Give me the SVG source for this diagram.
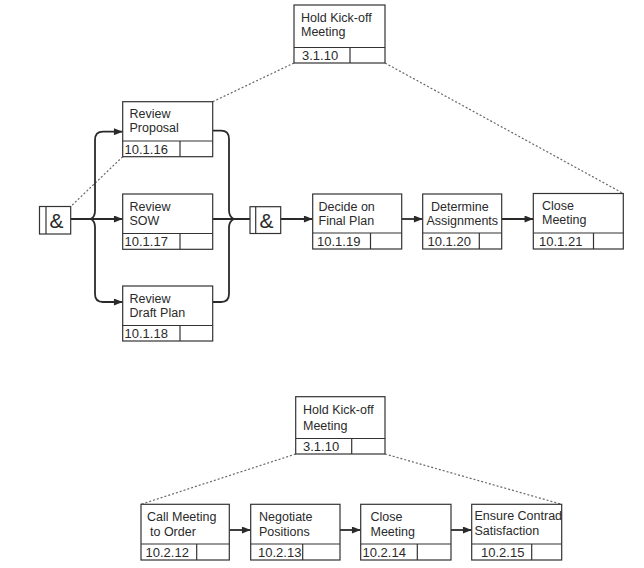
<svg xmlns="http://www.w3.org/2000/svg" width="644" height="568" viewBox="0 0 644 568">
<defs>
<style>
.box rect{fill:#fff;stroke:#333;stroke-width:1.2}
.box line{stroke:#333;stroke-width:1.2}
.lbl{font-family:"Liberation Sans",Arial,sans-serif;font-size:12.5px;fill:#2a2a2a}
.id{font-family:"Liberation Sans",Arial,sans-serif;font-size:13px;fill:#2a2a2a}
.amp{font-family:"Liberation Sans",Arial,sans-serif;font-size:21px;fill:#2a2a2a}
.flow{fill:none;stroke:#2a2a2a;stroke-width:1.8}
.dot{fill:none;stroke:#666;stroke-width:1.2;stroke-dasharray:2 2}
</style>
<marker id="ah" viewBox="0 0 10 8" refX="10" refY="4" markerWidth="10" markerHeight="7" markerUnits="userSpaceOnUse" orient="auto">
<path d="M0,0 L10,4 L0,8 z" fill="#2a2a2a"/>
</marker>
</defs>
<rect width="644" height="568" fill="#fff"/>

<g id="connectors">
<path class="dot" d="M294,63 L212.7,101.7"/>
<path class="dot" d="M122.7,156.7 L70.7,206.5"/>
<path class="dot" d="M385,63 L623.3,193.5"/>
<path class="dot" d="M295.7,454 L141,504.3"/>
<path class="dot" d="M385,454 L561.7,504.3"/>
<path class="flow" d="M70.7,219 H122.7" marker-end="url(#ah)"/>
<path class="flow" d="M90.7,219 Q95,217 95,211 V140 Q95,131.7 103,131.7 H122.7" marker-end="url(#ah)"/>
<path class="flow" d="M90.7,219 Q95,221 95,227 V294 Q95,302 103,302 H122.7" marker-end="url(#ah)"/>
<path class="flow" d="M212.7,130.7 H221 Q229,130.7 229,139 V210 Q229,217 234,219"/>
<path class="flow" d="M212.7,302 H221 Q229,302 229,294 V228 Q229,221 234,219"/>
<path class="flow" d="M212.7,219 H250"/>
<path class="flow" d="M280.7,219 H312.7" marker-end="url(#ah)"/>
<path class="flow" d="M401.7,219 H422.7" marker-end="url(#ah)"/>
<path class="flow" d="M501.7,219 H533.3" marker-end="url(#ah)"/>
<path class="flow" d="M229.3,530 H250.7" marker-end="url(#ah)"/>
<path class="flow" d="M340,530 H360.7" marker-end="url(#ah)"/>
<path class="flow" d="M451,530 H471.7" marker-end="url(#ah)"/>
</g>

<g id="kickoff-top" class="box">
<rect x="294" y="5" width="91" height="58"/>
<line x1="294" y1="47.5" x2="385" y2="47.5"/>
<line x1="350" y1="47.5" x2="350" y2="63"/>
<text class="lbl" x="301" y="22">Hold Kick-off</text>
<text class="lbl" x="301" y="36">Meeting</text>
<text class="id" x="302" y="60">3.1.10</text>
</g>

<g id="and-left" class="box">
<rect x="39.5" y="206.5" width="31.2" height="27.5"/>
<line x1="46" y1="206.5" x2="46" y2="234"/>
<text class="amp" x="49.5" y="228">&amp;</text>
</g>

<g id="review-proposal" class="box">
<rect x="122.7" y="101.7" width="90" height="55"/>
<line x1="122.7" y1="141" x2="212.7" y2="141"/>
<line x1="180" y1="141" x2="180" y2="156.7"/>
<text class="lbl" x="129.5" y="118">Review</text>
<text class="lbl" x="129.5" y="132">Proposal</text>
<text class="id" x="124.5" y="153.5">10.1.16</text>
</g>

<g id="review-sow" class="box">
<rect x="122.7" y="194" width="90" height="55.3"/>
<line x1="122.7" y1="233.5" x2="212.7" y2="233.5"/>
<line x1="180" y1="233.5" x2="180" y2="249.3"/>
<text class="lbl" x="129.5" y="210.5">Review</text>
<text class="lbl" x="129.5" y="224.5">SOW</text>
<text class="id" x="124.5" y="246">10.1.17</text>
</g>

<g id="review-draft" class="box">
<rect x="122.7" y="286" width="90" height="55"/>
<line x1="122.7" y1="325.5" x2="212.7" y2="325.5"/>
<line x1="180" y1="325.5" x2="180" y2="341"/>
<text class="lbl" x="129.5" y="302.5">Review</text>
<text class="lbl" x="129.5" y="316.5">Draft Plan</text>
<text class="id" x="124.5" y="338">10.1.18</text>
</g>

<g id="and-right" class="box">
<rect x="250" y="206.7" width="30.7" height="26.8"/>
<line x1="255.7" y1="206.7" x2="255.7" y2="233.5"/>
<text class="amp" x="259.5" y="228">&amp;</text>
</g>

<g id="decide" class="box">
<rect x="312.7" y="194" width="89" height="55"/>
<line x1="312.7" y1="233" x2="401.7" y2="233"/>
<line x1="370.5" y1="233" x2="370.5" y2="249"/>
<text class="lbl" x="318.5" y="210.5">Decide on</text>
<text class="lbl" x="318.5" y="224.5">Final Plan</text>
<text class="id" x="317" y="246">10.1.19</text>
</g>

<g id="determine" class="box">
<rect x="422.7" y="194" width="79" height="55"/>
<line x1="422.7" y1="233" x2="501.7" y2="233"/>
<line x1="479.3" y1="233" x2="479.3" y2="249"/>
<text class="lbl" x="431" y="210.5">Determine</text>
<text class="lbl" x="426.5" y="224.5">Assignments</text>
<text class="id" x="427.5" y="246">10.1.20</text>
</g>

<g id="close-1" class="box">
<rect x="533.3" y="193.5" width="90" height="55.5"/>
<line x1="533.3" y1="233" x2="623.3" y2="233"/>
<line x1="593.5" y1="233" x2="593.5" y2="249"/>
<text class="lbl" x="542" y="210">Close</text>
<text class="lbl" x="542" y="224">Meeting</text>
<text class="id" x="539" y="246">10.1.21</text>
</g>

<g id="kickoff-bottom" class="box">
<rect x="295.7" y="396.7" width="89.3" height="57.3"/>
<line x1="295.7" y1="438.5" x2="385" y2="438.5"/>
<line x1="351.7" y1="438.5" x2="351.7" y2="454"/>
<text class="lbl" x="303" y="414">Hold Kick-off</text>
<text class="lbl" x="303" y="430">Meeting</text>
<text class="id" x="303" y="451">3.1.10</text>
</g>

<g id="call-meeting" class="box">
<rect x="141" y="504.3" width="88.3" height="55.7"/>
<line x1="141" y1="544" x2="229.3" y2="544"/>
<line x1="196.7" y1="544" x2="196.7" y2="560"/>
<text class="lbl" x="147" y="521">Call Meeting</text>
<text class="lbl" x="150" y="536">to Order</text>
<text class="id" x="145.5" y="557">10.2.12</text>
</g>

<g id="negotiate" class="box">
<rect x="250.7" y="504.3" width="89.3" height="55.7"/>
<line x1="250.7" y1="544" x2="340" y2="544"/>
<line x1="302.7" y1="544" x2="302.7" y2="560"/>
<text class="lbl" x="259" y="521">Negotiate</text>
<text class="lbl" x="259" y="536">Positions</text>
<text class="id" x="258" y="557">10.2.13</text>
</g>

<g id="close-2" class="box">
<rect x="360.7" y="504.3" width="90.3" height="55.7"/>
<line x1="360.7" y1="544" x2="451" y2="544"/>
<line x1="417.3" y1="544" x2="417.3" y2="560"/>
<text class="lbl" x="370.5" y="520.5">Close</text>
<text class="lbl" x="370.5" y="535.5">Meeting</text>
<text class="id" x="362.5" y="557">10.2.14</text>
</g>

<g id="ensure" class="box">
<rect x="471.7" y="504.3" width="90" height="55.7"/>
<line x1="471.7" y1="544" x2="561.7" y2="544"/>
<line x1="531.7" y1="544" x2="531.7" y2="560"/>
<text class="lbl" x="474.5" y="520">Ensure Contrad</text>
<text class="lbl" x="474.5" y="535">Satisfaction</text>
<text class="id" x="481" y="557">10.2.15</text>
</g>
</svg>
